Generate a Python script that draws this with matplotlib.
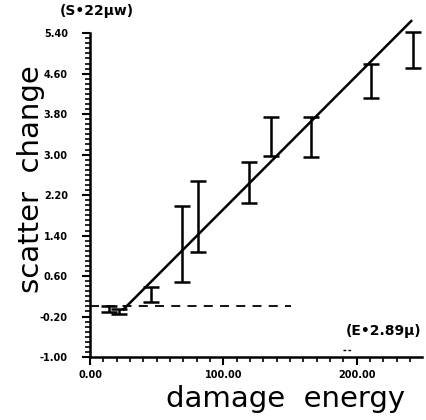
import matplotlib.pyplot as plt
from matplotlib.ticker import MultipleLocator, FormatStrFormatter

# error bars (damage energy, low / high scatter change)
bar_x = [14, 22, 46, 69, 81, 119, 135.5, 165.5, 210.5, 242]
bar_lo = [-0.12, -0.16, 0.09, 0.48, 1.08, 2.04, 2.97, 2.95, 4.12, 4.71]
bar_hi = [0.0, -0.06, 0.38, 1.98, 2.48, 2.85, 3.74, 3.74, 4.79, 5.42]

# fitted line and baseline
fit_x = [25, 241]
fit_y = [-0.06, 5.64]
base_x = [0, 151]
base_y = [0.0, 0.0]

yticks = [-1.0, -0.2, 0.6, 1.4, 2.2, 3.0, 3.8, 4.6, 5.4]
xticks = [0, 100, 200]

fig = plt.figure(figsize=(4.27, 4.20), dpi=100)
ax = fig.add_axes([0.211, 0.15, 0.777, 0.771])

mid = [(a + b) / 2 for a, b in zip(bar_lo, bar_hi)]
err = [[m - a for m, a in zip(mid, bar_lo)], [b - m for m, b in zip(mid, bar_hi)]]
ax.errorbar(bar_x, mid, yerr=err, fmt='none', ecolor='black',
            elinewidth=1.8, capsize=6, capthick=1.8, clip_on=False)

ax.plot(fit_x, fit_y, color='black', lw=1.8, clip_on=False)
ax.plot(base_x, base_y, color='black', lw=1.3, ls=(0, (5, 4)))
ax.plot([190, 196], [-0.86, -0.86], color='black', lw=1.0, ls=(0, (2, 1.5)))

ax.set_xlim(0, 249)
ax.set_ylim(-1.0, 5.4)
ax.set_xticks(xticks)
ax.set_yticks(yticks)
ax.xaxis.set_minor_locator(MultipleLocator(10))
ax.yaxis.set_minor_locator(MultipleLocator(0.1))
ax.xaxis.set_major_formatter(FormatStrFormatter('%.2f'))
ax.yaxis.set_major_formatter(FormatStrFormatter('%.2f'))
ax.tick_params(which='major', direction='out', length=6, width=1.5,
               labelsize=7, pad=3)
ax.tick_params(axis='y', which='major', pad=10)
ax.tick_params(which='minor', direction='out', length=3.5, width=1.2)
for lab in ax.get_xticklabels() + ax.get_yticklabels():
    lab.set_fontweight('bold')

for s in ['top', 'right']:
    ax.spines[s].set_visible(False)
for s in ['left', 'bottom']:
    ax.spines[s].set_linewidth(1.8)

ax.set_xlabel('damage  energy', fontsize=21)
ax.set_ylabel('scatter  change', fontsize=21)
ax.xaxis.set_label_coords(0.59, -0.085)
ax.yaxis.set_label_coords(-0.135, 0.55)

ax.text(-0.09, 1.07, '(S\u202222\u03bcw)', transform=ax.transAxes,
        fontsize=10, fontweight='bold', ha='left', va='center')
ax.text(0.77, 0.08, '(E\u20222.89\u03bc)', transform=ax.transAxes,
        fontsize=10, fontweight='bold', ha='left', va='center')

fig.savefig('out.png', dpi=100)
